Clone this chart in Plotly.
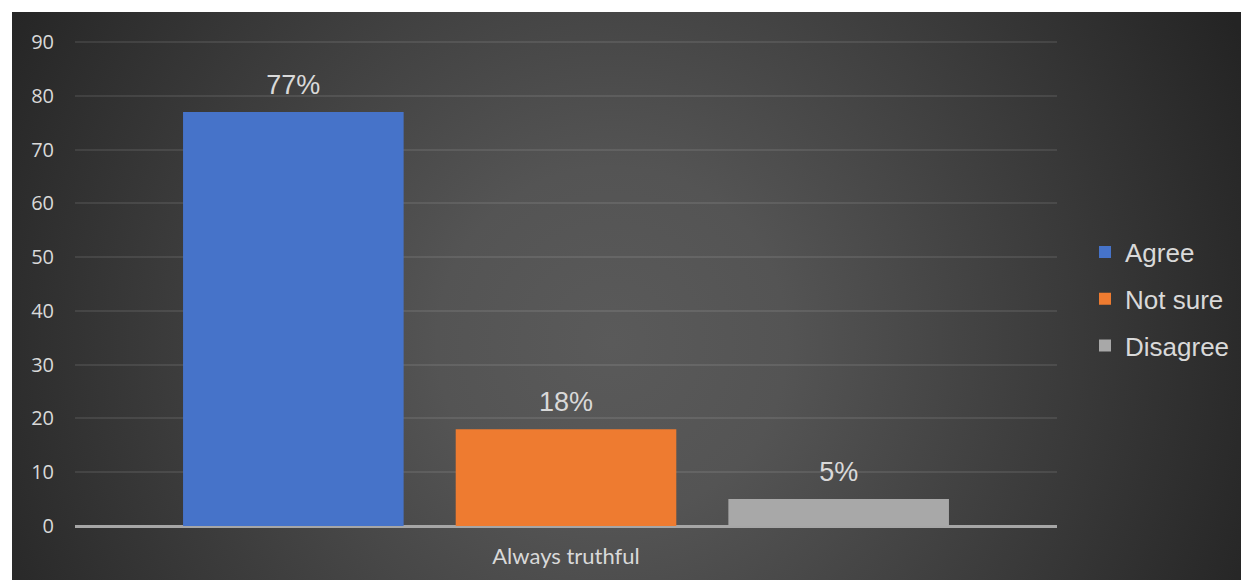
import base64
import plotly.graph_objects as go

categories = ["Always truthful"]
series_names = ["Agree", "Not sure", "Disagree"]
series_values = [[77], [18], [5]]
series_labels = [["77%"], ["18%"], ["5%"]]
series_colors = ["#4673C9", "#EE7B30", "#A8A8A8"]
y_ticks = [0, 10, 20, 30, 40, 50, 60, 70, 80, 90]

OFF = 8  # page body margin
W, H = 1249 - OFF, 580 - OFF
L, R, T, B = 75 - OFF, 192, 41 - OFF, 54
pw, ph = W - L - R, H - T - B

bgw, bgh = 1249 - 12, 580 - 12
svg = f'''<svg xmlns="http://www.w3.org/2000/svg" width="{bgw}" height="{bgh}">
<defs><radialGradient id="g" gradientUnits="userSpaceOnUse" cx="600" cy="330" r="700">
<stop offset="0" stop-color="#5a5a5a"/><stop offset="0.25" stop-color="#545454"/><stop offset="1" stop-color="#242424"/>
</radialGradient></defs>
<rect width="100%" height="100%" fill="url(#g)"/></svg>'''
src = "data:image/svg+xml;base64," + base64.b64encode(svg.encode()).decode()

fig = go.Figure()
for name, vals, col in zip(series_names, series_values, series_colors):
    fig.add_trace(go.Bar(
        x=categories, y=vals, name=name, offsetgroup=name, legendgroup=name,
        marker=dict(color=col, line=dict(width=0)),
    ))
for name, vals, labs in zip(series_names, series_values, series_labels):
    fig.add_trace(go.Scatter(
        x=categories, y=vals, text=labs, mode="markers+text", offsetgroup=name,
        legendgroup=name, textposition="top center", showlegend=False, hoverinfo="skip",
        marker=dict(size=16, opacity=0),
        textfont=dict(family="Liberation Sans, Arial", size=27, color="#d9d9d9"),
        cliponaxis=False,
    ))

fig.add_layout_image(dict(
    source=src, xref="paper", yref="paper",
    x=(12 - OFF - L) / pw, y=(H - B - (12 - OFF)) / ph,
    sizex=bgw / pw, sizey=bgh / ph,
    xanchor="left", yanchor="top", sizing="stretch", layer="below",
))

fig.update_layout(
    width=W, height=H,
    margin=dict(l=L, r=R, t=T, b=B, autoexpand=False),
    paper_bgcolor="white", plot_bgcolor="rgba(0,0,0,0)",
    barmode="group", bargap=0.167, bargroupgap=0.191,
    scattermode="group", scattergap=0.167,
    showlegend=True,
    legend=dict(x=(1085 - 75) / pw, y=(526 - 299) / ph, xanchor="left", yanchor="middle",
                font=dict(family="Liberation Sans, Arial", size=26, color="#d9d9d9"),
                tracegroupgap=10, bgcolor="rgba(0,0,0,0)", itemwidth=30,
                borderwidth=0),
    xaxis=dict(showgrid=False, showline=False, zeroline=False,
               tickfont=dict(family="Lato, Open Sans", size=22, color="#d9d9d9"),
               ticklabelstandoff=15),
    yaxis=dict(range=[0, 90.2], tickvals=y_ticks, showgrid=True,
               gridcolor="rgba(255,255,255,0.09)", gridwidth=2,
               zeroline=True, zerolinecolor="#a6a6a6", zerolinewidth=3, showline=False,
               tickfont=dict(family="Open Sans, Noto Sans", size=20, color="#d9d9d9"),
               ticklabelstandoff=20),
)

fig.write_html("out.html")
